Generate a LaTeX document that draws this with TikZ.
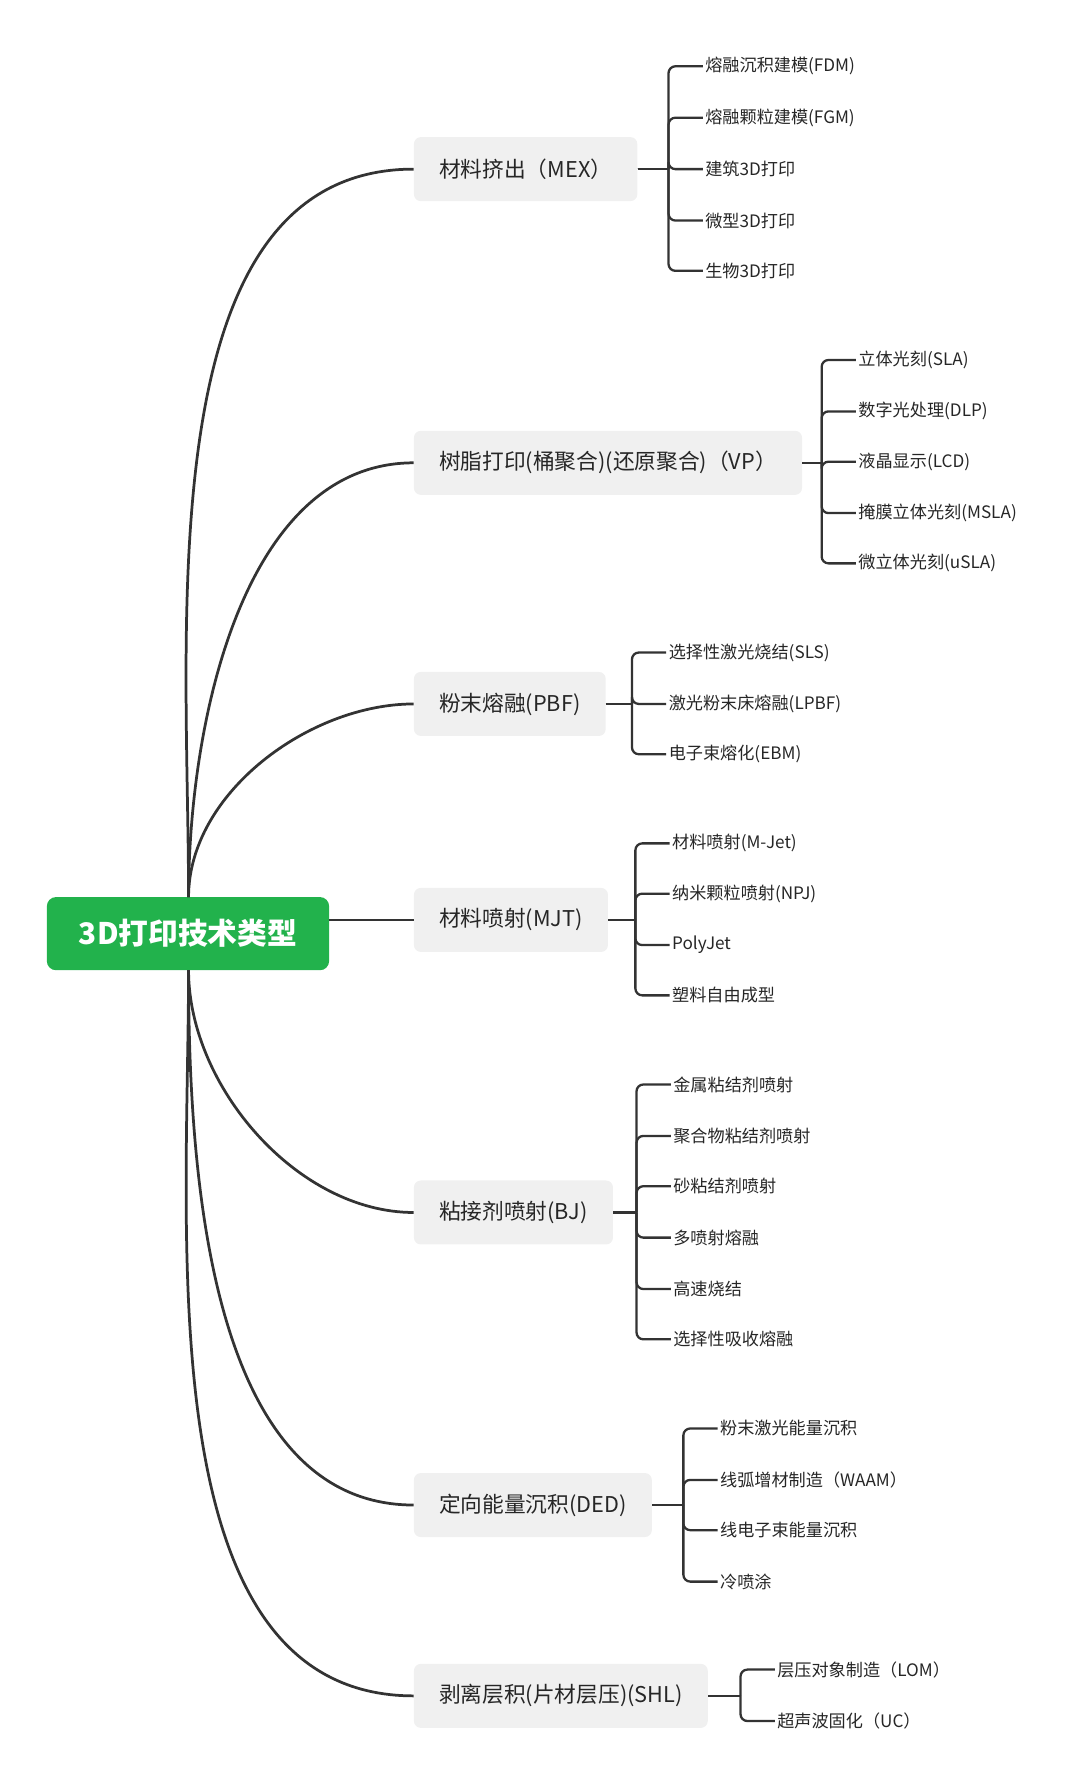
\documentclass[tikz,border=0pt]{standalone}
\usepackage{fontspec}
\setmainfont{Noto Sans CJK SC}
\begin{document}
\begin{tikzpicture}[x=1pt,y=-1pt,
 conn/.style={draw=black!80,line width=2.4pt},
 br/.style={draw=black!80,line width=2pt,rounded corners=6pt},
 l1/.style={fill=gray!12,rounded corners=6pt,minimum height=56pt,inner xsep=22pt,anchor=west,font=\fontsize{19}{22}\selectfont,text=black!85},
 leaf/.style={anchor=west,inner xsep=2pt,font=\fontsize{15}{18}\selectfont,text=black!85}]
\useasboundingbox (0,0) rectangle (945,1562);
\node[fill={rgb,255:red,34;green,178;blue,76},rounded corners=8pt,minimum width=247pt,minimum height=64pt,text=white,font=\fontsize{26}{30}\selectfont\bfseries] (root) at (164.5,817) {3D打印技术类型};
\coordinate (rt) at (165,785);
\coordinate (rb) at (165,849);
% level 1
\node[l1] (a) at (362,148) {材料挤出（MEX）};
\node[l1] (b) at (362,405) {树脂打印(桶聚合)(还原聚合)（VP）};
\node[l1] (c) at (362,616) {粉末熔融(PBF)};
\node[l1] (d) at (362,805) {材料喷射(MJT)};
\node[l1] (e) at (362,1061) {粘接剂喷射(BJ)};
\node[l1] (f) at (362,1317) {定向能量沉积(DED)};
\node[l1] (g) at (362,1484) {剥离层积(片材层压)(SHL)};
\draw[conn] (rt) to[out=90,in=180,looseness=0.9] (a.west);
\draw[conn] (rt) to[out=90,in=180,looseness=0.9] (b.west);
\draw[conn] (rt) to[out=90,in=180,looseness=0.9] (c.west);
\draw[conn] (root.east|-d.west) -- (d.west);
\draw[conn] (rb) to[out=-90,in=180,looseness=0.9] (e.west);
\draw[conn] (rb) to[out=-90,in=180,looseness=0.9] (f.west);
\draw[conn] (rb) to[out=-90,in=180,looseness=0.9] (g.west);
% leaves
\foreach \p/\bx/\y/\t/\n in {
a/585/58/熔融沉积建模(FDM)/a1, a/585/103/熔融颗粒建模(FGM)/a2, a/585/148/建筑3D打印/a3, a/585/193/微型3D打印/a4, a/585/237/生物3D打印/a5,
b/719/315/立体光刻(SLA)/b1, b/719/360/数字光处理(DLP)/b2, b/719/404/液晶显示(LCD)/b3, b/719/449/掩膜立体光刻(MSLA)/b4, b/719/493/微立体光刻(uSLA)/b5,
c/553/571/选择性激光烧结(SLS)/c1, c/553/616/激光粉末床熔融(LPBF)/c2, c/553/660/电子束熔化(EBM)/c3,
d/556/738/材料喷射(M-Jet)/d1, d/556/782/纳米颗粒喷射(NPJ)/d2, d/556/827/PolyJet/d3, d/556/871/塑料自由成型/d4,
e/557/949/金属粘结剂喷射/e1, e/557/994/聚合物粘结剂喷射/e2, e/557/1038/砂粘结剂喷射/e3, e/557/1083/多喷射熔融/e4, e/557/1128/高速烧结/e5, e/557/1172/选择性吸收熔融/e6,
f/598/1250/粉末激光能量沉积/f1, f/598/1295/线弧增材制造（WAAM）/f2, f/598/1339/线电子束能量沉积/f3, f/598/1384/冷喷涂/f4,
g/648/1461/层压对象制造（LOM）/g1, g/648/1506/超声波固化（UC）/g2}{
  \node[leaf] (\n) at (\bx+30,\y) {\t};
  \coordinate (\n b) at (\bx,0);
  \draw[br] (\p.east -| \n b) |- (\n.west);
  \draw[br] (\p.east) -- (\p.east -| \n b);
}
\end{tikzpicture}
\end{document}
